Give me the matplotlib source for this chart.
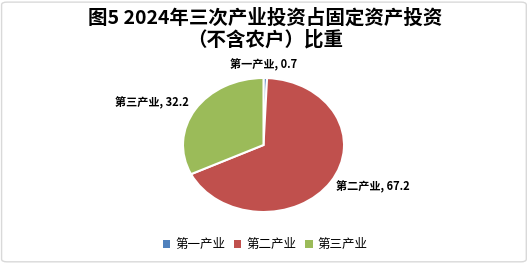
import matplotlib
matplotlib.use('Agg')
import matplotlib.pyplot as plt
from matplotlib.patches import FancyBboxPatch, Patch

plt.rcParams['font.family'] = ['Noto Sans CJK SC', 'DejaVu Sans']

# 三次产业投资占比（%）
industries = ['第一产业', '第二产业', '第三产业']
shares = [0.7, 67.2, 32.2]
colors = ['#4F81BD', '#C0504D', '#9BBB59']

title_lines = ['图5 2024年三次产业投资占固定资产投资', '（不含农户）比重']

fig = plt.figure(figsize=(5.3, 2.65), dpi=100)

# 外框
fig.patches.append(FancyBboxPatch((0.003, 0.012), 0.99, 0.98,
                                  boxstyle='round,pad=0,rounding_size=0.01',
                                  transform=fig.transFigure, fill=False,
                                  edgecolor='#D9D9D9', linewidth=1.0))

for yy, line in zip([0.932, 0.849], title_lines):
    fig.text(0.5, yy, line, ha='center', va='center', fontsize=14,
             fontweight='bold', color='#000000')

# 饼图区域，横向略宽于纵向
ax = fig.add_axes([0.3453, 0.20, 0.3038, 0.5057])
wedges, _ = ax.pie(shares, colors=colors, startangle=90, counterclock=False,
                   radius=1.0, wedgeprops=dict(edgecolor='white', linewidth=1.5))
ax.set_aspect('auto')
ax.set_xlim(-1, 1)
ax.set_ylim(-1, 1)
ax.axis('off')

# 数据标签位置（饼图坐标）
label_pos = [(0.0, 1.19), (1.36, -0.63), (-1.39, 0.63)]
for name, val, (x, y) in zip(industries, shares, label_pos):
    ax.text(x, y, f'{name}, {val}', ha='center', va='center', fontsize=8,
            fontweight='bold', color='#000000', clip_on=False)

handles = [Patch(facecolor=c, edgecolor='none') for c in colors]
fig.legend(handles, industries, loc='center', bbox_to_anchor=(0.5, 0.077),
           ncol=3, frameon=False, fontsize=9, handlelength=0.6,
           handleheight=0.6, handletextpad=0.4, columnspacing=0.7)

fig.savefig('out.png', dpi=100)
